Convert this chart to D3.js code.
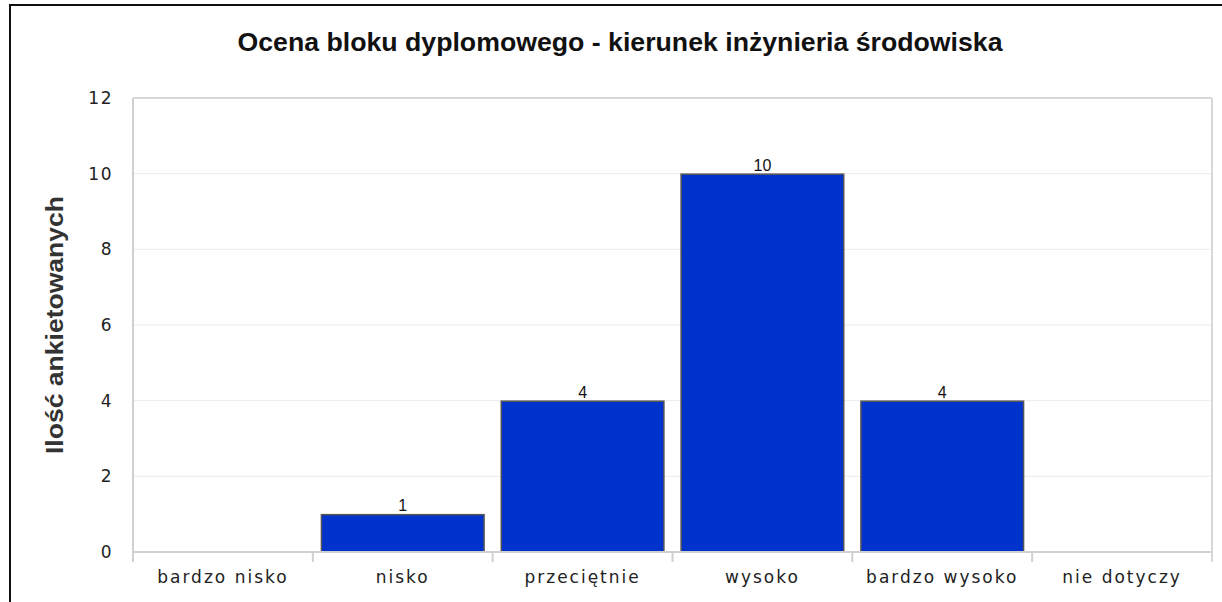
<!DOCTYPE html>
<html><head><meta charset="utf-8">
<script src="https://cdn.jsdelivr.net/npm/d3@7"></script>
<style>body{margin:0;background:#fff}svg{display:block}</style>
</head><body>
<svg id="c" width="1222" height="602"></svg>
<script>
const categories = ["bardzo nisko","nisko","przeciętnie","wysoko","bardzo wysoko","nie dotyczy"];
const values = [0,1,4,10,4,0];
const yTicks = [0,2,4,6,8,10,12];
const title = "Ocena bloku dyplomowego - kierunek inżynieria środowiska";
const yTitle = "Ilość ankietowanych";

const svg = d3.select("#c");
const m = {left:133, right:1212, top:98, bottom:552};
const x = d3.scaleBand().domain(categories).range([m.left, m.right]).paddingInner(0.09).paddingOuter(0.045);
const xb = d3.scaleBand().domain(categories).range([m.left, m.right]);
const y = d3.scaleLinear().domain([0,12]).range([m.bottom, m.top]);

// outer border
svg.append("path").attr("d",`M10,602 V5 H1222`).attr("fill","none").attr("stroke","#111").attr("stroke-width",2);

// grid
svg.append("g").selectAll("line").data(yTicks.filter(d=>d>0)).join("line")
  .attr("x1",m.left).attr("x2",m.right).attr("y1",d=>y(d)).attr("y2",d=>y(d))
  .attr("stroke",d=>d===12?"#d8d8d8":"#ebebeb").attr("stroke-width",d=>d===12?2:1);
svg.append("line").attr("x1",m.right).attr("x2",m.right).attr("y1",m.top).attr("y2",m.bottom+10)
  .attr("stroke","#d8d8d8").attr("stroke-width",2);

// bars
svg.append("g").selectAll("rect").data(categories).join("rect")
  .attr("x",d=>x(d)+0.5).attr("width",x.bandwidth()-1)
  .attr("y",(d,i)=>y(values[i])+0.5).attr("height",(d,i)=>Math.max(0,y(0)-y(values[i])-0.5))
  .attr("fill",(d,i)=>values[i]>0?"#0033cc":"none").attr("stroke",(d,i)=>values[i]>0?"#555":"none").attr("stroke-width",1.5);

// value labels
svg.append("g").selectAll("text").data(categories.filter((d,i)=>values[i]>0)).join("text")
  .attr("x",d=>x(d)+x.bandwidth()/2).attr("y",d=>y(values[categories.indexOf(d)])-3)
  .attr("text-anchor","middle").attr("font-family","Liberation Sans").attr("font-size",16).attr("fill","#111")
  .text(d=>values[categories.indexOf(d)]);

// y axis
const ya = svg.append("g").attr("transform",`translate(${m.left},0)`)
  .call(d3.axisLeft(y).tickValues(yTicks).tickSize(0).tickPadding(20));
ya.select(".domain").attr("stroke","#d0d0d0").attr("stroke-width",2).attr("d",`M0,${m.top}V${m.bottom+10}`);
ya.selectAll("text").attr("font-family","DejaVu Sans").attr("font-size",17).attr("letter-spacing",1.5).attr("fill","#222");

// x axis
const xa = svg.append("g").attr("transform",`translate(0,${m.bottom})`)
  .call(d3.axisBottom(xb).tickSize(0).tickPadding(19));
xa.select(".domain").attr("stroke","#d0d0d0").attr("stroke-width",2).attr("d",`M${m.left},0H${m.right}`);
xa.selectAll("text").attr("font-family","DejaVu Sans").attr("font-size",17).attr("letter-spacing",2).attr("fill","#222");
svg.append("g").selectAll("line").data(categories.slice(1)).join("line")
  .attr("x1",d=>xb(d)).attr("x2",d=>xb(d)).attr("y1",m.bottom).attr("y2",m.bottom+10)
  .attr("stroke","#d0d0d0").attr("stroke-width",2);

// titles
const t = svg.append("text").attr("x",620).attr("y",51).attr("text-anchor","middle")
  .attr("font-family","Liberation Sans").attr("font-weight","bold").attr("font-size",25).attr("fill","#111").text(title);
if (t.node().getComputedTextLength()>0) t.attr("textLength",765).attr("lengthAdjust","spacingAndGlyphs");
const yt = svg.append("text").attr("transform","translate(63,325) rotate(-90)").attr("text-anchor","middle")
  .attr("font-family","Liberation Sans").attr("font-weight","bold").attr("font-size",23).attr("fill","#333").text(yTitle);
if (yt.node().getComputedTextLength()>0) yt.attr("textLength",258).attr("lengthAdjust","spacingAndGlyphs");
</script>
</body></html>
